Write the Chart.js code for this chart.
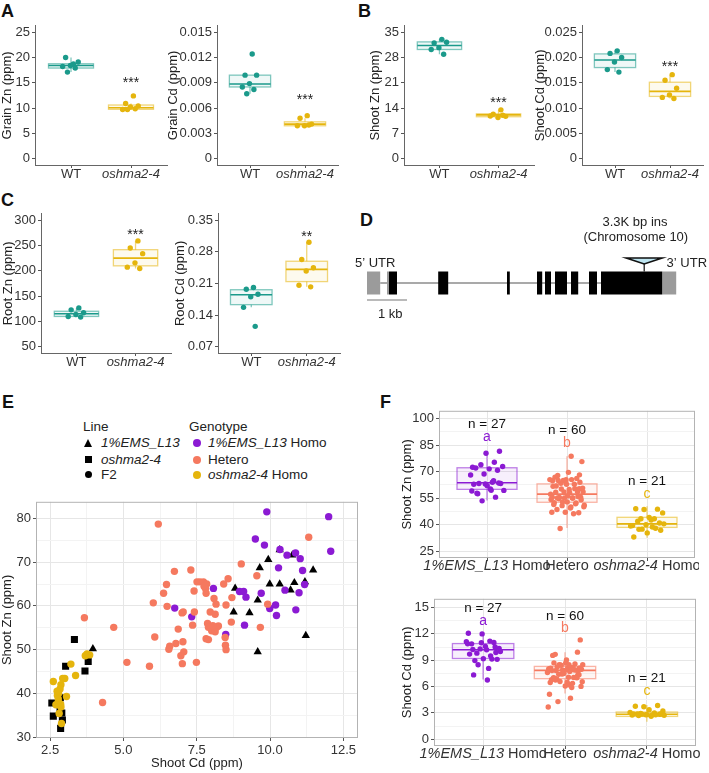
<!DOCTYPE html>
<html>
<head>
<meta charset="utf-8">
<title>OsHMA2 figure</title>
<script src="https://cdn.jsdelivr.net/npm/chart.js@4.4.1/dist/chart.umd.min.js"></script>
<style>
  body { margin: 0; background: #fff; font-family: "Liberation Sans", Arial, sans-serif; color: #222; }
  #page { position: relative; width: 709px; height: 773px; overflow: hidden; }
  canvas { position: absolute; }
  .tag { position: absolute; font-size: 18px; font-weight: bold; line-height: 18px; color: #111; }
  .lg { position: absolute; font-size: 13.5px; line-height: 16px; height: 16px; white-space: nowrap; color: #222; }
  .mk { position: absolute; }
</style>
</head>
<body>
<div id="page">
  <div class="tag" style="left:1px;top:2px">A</div>
  <div class="tag" style="left:358px;top:2px">B</div>
  <div class="tag" style="left:1px;top:191px">C</div>
  <div class="tag" style="left:360px;top:211px">D</div>
  <div class="tag" style="left:2px;top:393px">E</div>
  <div class="tag" style="left:380px;top:393px">F</div>

  <canvas id="grainZn"></canvas>
  <canvas id="grainCd"></canvas>
  <canvas id="shootZn"></canvas>
  <canvas id="shootCd"></canvas>
  <canvas id="rootZn"></canvas>
  <canvas id="rootCd"></canvas>
  <canvas id="gene"></canvas>
  <canvas id="scatterE"></canvas>
  <canvas id="boxZnF"></canvas>
  <canvas id="boxCdF"></canvas>

  <!-- legend of panel E -->
  <div class="lg" style="left:83px;top:419px">Line</div>
  <div class="mk" style="left:84px;top:439px;width:0;height:0;border-left:4.5px solid transparent;border-right:4.5px solid transparent;border-bottom:8px solid #000"></div>
  <div class="lg" style="left:101px;top:435px"><i>1%EMS_L13</i></div>
  <div class="mk" style="left:85px;top:456px;width:7px;height:7px;background:#000"></div>
  <div class="lg" style="left:101px;top:452px"><i>oshma2-4</i></div>
  <div class="mk" style="left:85px;top:471px;width:7px;height:7px;border-radius:50%;background:#000"></div>
  <div class="lg" style="left:101px;top:467px">F2</div>

  <div class="lg" style="left:189px;top:419px">Genotype</div>
  <div class="mk" style="left:193px;top:439px;width:8px;height:8px;border-radius:50%;background:#8b1ad3"></div>
  <div class="lg" style="left:208px;top:435px"><i>1%EMS_L13</i> Homo</div>
  <div class="mk" style="left:193px;top:456px;width:8px;height:8px;border-radius:50%;background:#f5795f"></div>
  <div class="lg" style="left:208px;top:452px">Hetero</div>
  <div class="mk" style="left:193px;top:471px;width:8px;height:8px;border-radius:50%;background:#e5b50d"></div>
  <div class="lg" style="left:208px;top:467px"><i>oshma2-4</i> Homo</div>
</div>

<script>
// ---- panels A-C : WT vs oshma2-4 (ppm) ----
var classicCats = [[['WT', false]], [['oshma2-4', true]]];

var grainZnWT = [18.7, 20.0, 19.1, 18.4, 18.2, 17.9, 17.1];
var grainZnMut = [12.4, 10.9, 10.4, 10.2, 9.7, 9.85, 9.7];
var grainZnBox = [[17.1, 17.9, 18.4, 18.75, 20.0], [9.7, 9.75, 10.05, 10.6, 10.9]];
var grainZnTicks = [0, 5, 10, 15, 20, 25];

var grainCdWT = [0.0124, 0.0099, 0.0099, 0.0089, 0.0085, 0.0082, 0.0077];
var grainCdMut = [0.0051, 0.0048, 0.0041, 0.0039, 0.0039, 0.0040];
var grainCdBox = [[0.0077, 0.0085, 0.00885, 0.0099, 0.0099], [0.0039, 0.0039, 0.0041, 0.00437, 0.0048]];
var grainCdTicks = [0, 0.003, 0.006, 0.009, 0.012, 0.015];

var shootZnWT = [33.0, 32.0, 32.2, 30.7, 30.2, 28.9];
var shootZnMut = [13.5, 12.3, 11.7, 11.4, 11.8, 12.0];
var shootZnBox = [[28.9, 30.2, 31.3, 32.3, 33.0], [11.4, 11.6, 12.1, 12.4, 13.5]];
var shootZnTicks = [0, 7, 14, 21, 28, 35];

var shootCdWT = [0.0213, 0.0208, 0.0200, 0.0191, 0.0176, 0.0171];
var shootCdMut = [0.0166, 0.0155, 0.0139, 0.0126, 0.0121, 0.0119];
var shootCdBox = [[0.0171, 0.0180, 0.0195, 0.0207, 0.0213], [0.0119, 0.0123, 0.0133, 0.0151, 0.0166]];
var shootCdTicks = [0, 0.005, 0.010, 0.015, 0.020, 0.025];

var rootZnWT = [126.6, 122.7, 116.9, 113.6, 109.7, 108.4];
var rootZnMut = [259, 244.8, 233.8, 215.6, 207.1, 204.5];
var rootZnBox = [[108.4, 109.7, 115, 120, 126.6], [204.5, 209.7, 225, 241.6, 259]];
var rootZnTicks = [50, 100, 150, 200, 250, 300];

var rootCdWT = [0.201, 0.197, 0.186, 0.1805, 0.157, 0.115];
var rootCdMut = [0.301, 0.263, 0.2445, 0.2373, 0.206, 0.2024];
var rootCdBox = [[0.157, 0.163, 0.185, 0.196, 0.201], [0.2024, 0.214, 0.241, 0.259, 0.301]];
var rootCdTicks = [0.07, 0.14, 0.21, 0.28, 0.35];

// ---- panel D : gene model (kb from start) ----
var utrSegs = [[0, 0.33], [0.50, 0.55], [7.38, 7.73]];
var exonSegs = [[0.55, 0.75], [1.78, 2.03], [3.50, 3.57], [4.25, 4.38], [4.45, 4.60], [4.70, 5.00], [5.10, 5.28], [5.55, 5.75], [5.85, 7.38]];
var insertionKb = 6.93;
var scaleBarKb = [0, 1];

// ---- panel E / F : F2 plants (Shoot Cd, Shoot Zn) ----
var heteroCd = [6.19, 6.74, 7.30, 7.51, 6.47, 6.37, 7.41, 6.02, 6.49, 7.00, 7.04, 7.42, 3.67, 4.67, 6.87, 7.36, 6.07, 6.79, 7.03, 6.58, 6.55, 7.06, 6.96, 7.01, 7.49, 5.12, 5.89, 4.29, 11.32, 9.02, 9.55, 8.57, 8.42, 7.61, 7.73, 7.84, 7.80, 7.82, 8.09, 8.16, 8.50, 7.96, 8.13, 8.70, 7.87, 7.90, 8.01, 8.18, 8.24, 8.13, 8.68, 7.82, 7.90, 8.47, 8.48, 8.50, 9.67, 9.92, 7.75, 8.05];
var heteroZn = [78.7, 67.9, 68.2, 65.5, 64.9, 62.9, 63.4, 60.7, 59.9, 58.4, 58.6, 58.6, 57.3, 55.1, 54.7, 55.6, 52.9, 51.4, 51.8, 50.8, 50.1, 49.5, 48.6, 46.8, 47.1, 47.1, 46.2, 37.9, 75.7, 69.6, 66.9, 66.2, 65.0, 65.5, 65.5, 65.0, 64.0, 62.9, 61.7, 60.4, 60.2, 58.6, 58.1, 61.9, 56.0, 55.1, 54.3, 55.1, 55.4, 54.1, 56.3, 52.5, 52.3, 52.8, 51.0, 50.0, 55.1, 60.4, 64.5, 55.5];
var emsHomoCd = [6.75, 7.33, 9.89, 12.00, 12.07, 9.50, 9.81, 10.34, 10.58, 10.87, 11.03, 10.29, 11.11, 8.07, 8.96, 9.10, 9.18, 9.70, 9.13, 8.49, 9.99, 10.19, 10.22, 10.51, 10.99, 10.88, 11.18];
var emsHomoZn = [59.5, 57.5, 81.5, 80.4, 72.5, 75.3, 73.9, 72.9, 71.6, 72.1, 70.8, 68.7, 68.1, 64.0, 63.3, 63.3, 62.0, 62.9, 55.6, 53.5, 59.4, 60.2, 57.8, 63.6, 63.0, 59.1, 64.9];
var oshHomoCd = [2.61, 2.87, 2.84, 2.79, 2.75, 3.00, 2.93, 3.21, 3.37, 3.76, 3.85, 3.70, 3.06, 2.78, 2.70, 2.87, 2.81, 2.89, 2.78, 2.86, 2.74];
var oshHomoZn = [42.7, 42.0, 41.0, 40.0, 39.5, 43.4, 43.4, 46.7, 44.1, 49.0, 48.8, 48.6, 39.3, 38.7, 37.4, 36.9, 35.4, 33.1, 38.0, 37.5, 40.5];
var emsLineCd = [8.81, 9.65, 9.94, 10.76, 11.47, 9.99, 10.33, 10.83, 10.70, 11.19, 9.58, 8.76, 9.30, 11.22, 9.58, 10.33, 3.96];
var emsLineZn = [64.0, 68.7, 70.6, 71.6, 68.2, 65.0, 65.0, 65.3, 63.6, 65.5, 61.3, 58.6, 58.4, 53.2, 49.5, 72.8, 50.2];
var oshLineCd = [3.33, 3.03, 3.80, 3.69, 2.56, 2.61, 2.92, 2.86, 2.84, 2.85, 2.90];
var oshLineZn = [52.3, 46.2, 47.3, 45.1, 37.8, 34.8, 33.9, 32.0, 36.5, 39.0, 35.5];
var eCdTicks = [2.5, 5.0, 7.5, 10.0, 12.5];
var eCdMinor = [3.75, 6.25, 8.75, 11.25];
var eZnTicks = [30, 40, 50, 60, 70, 80];
var eZnMinor = [35, 45, 55, 65, 75];

var fCats = [[['1%EMS_L13', true], [' Homo', false]], [['Hetero', false]], [['oshma2-4', true], [' Homo', false]]];
var fCounts = ['n = 27', 'n = 60', 'n = 21'];
var fLetters = ['a', 'b', 'c'];
var fZnBox = [[53.7, 60.0, 63.7, 72.2, 81.5], [38.2, 52.7, 57.3, 63.1, 78.7], [32.7, 38.5, 40.5, 44.2, 50.5]];
var fZnTicks = [25, 40, 55, 70, 85, 100];
var fZnMinor = [32.5, 47.5, 62.5, 77.5, 92.5];
var fZnCountY = [96.7, 93.6, 64.5];
var fZnLetterY = [89.5, 86.4, 57.3];
var fCdBox = [[6.8, 9.2, 10.2, 10.9, 12.07], [5.2, 6.9, 7.85, 8.3, 9.9], [2.0, 2.6, 2.85, 3.1, 3.9]];
var fCdTicks = [0, 3, 6, 9, 12, 15];
var fCdMinor = [1.5, 4.5, 7.5, 10.5, 13.5];
var fCdCountY = [14.9, 14.0, 6.9];
var fCdLetterY = [13.5, 12.7, 5.5];

// ---- styles ----
var FAM = '"Liberation Sans", Arial, sans-serif';
var teal = '#1b9a8b', gold = '#e5b50d', violet = '#8b1ad3', coral = '#f5795f';
Chart.defaults.font.family = FAM;
Chart.defaults.font.size = 13;
Chart.defaults.color = '#333';
Chart.defaults.animation = false;
Chart.defaults.plugins.legend.display = false;
Chart.defaults.plugins.tooltip.enabled = false;

function rgba(hex, a) {
    var n = parseInt(hex.slice(1), 16);
    return 'rgba(' + (n >> 16) + ',' + ((n >> 8) & 255) + ',' + (n & 255) + ',' + a + ')';
}

// ggplot-like jitter: a fixed low-discrepancy spread, only for horizontal scatter
function jit(i, w) { return (((i + 1) * 0.6180339887) % 1 - 0.5) * 2 * w; }
function jitterPts(vals, cat, w) {
    return vals.map(function (v, i) { return { x: cat + jit(i, w), y: v }; });
}
function xy(xs, ys) {
    return xs.map(function (v, i) { return { x: v, y: ys[i] }; });
}
function fixTicks(vals) {
    return function (s) { s.ticks = vals.map(function (v) { return { value: v }; }); };
}
function has(arr, v) {
    return arr.some(function (a) { return Math.abs(a - v) < 1e-9; });
}

function place(id, area, yw, xh, pt, pr) {
    var cv = document.getElementById(id);
    var left = area.l - yw, top = area.t - pt;
    cv.width = area.r - left + pr;
    cv.height = area.b - top + xh;
    cv.style.left = left + 'px';
    cv.style.top = top + 'px';
    cv.style.width = cv.width + 'px';
    cv.style.height = cv.height + 'px';
    return cv;
}

function drawSegs(ctx, segs, cx, y, size) {
    var widths = segs.map(function (s) {
        ctx.font = (s[1] ? 'italic ' : '') + size + 'px ' + FAM;
        return ctx.measureText(s[0]).width;
    });
    var total = widths.reduce(function (a, b) { return a + b; }, 0);
    var x = cx - total / 2;
    ctx.textAlign = 'left';
    ctx.textBaseline = 'alphabetic';
    segs.forEach(function (s, i) {
        ctx.font = (s[1] ? 'italic ' : '') + size + 'px ' + FAM;
        ctx.fillText(s[0], x, y);
        x += widths[i];
    });
}

// boxes, notes, category labels and frame, all placed through the chart scales
function decor(o) {
    return {
        id: 'decor',
        beforeDatasetsDraw: function (chart) {
            var ctx = chart.ctx, xs = chart.scales.x, ys = chart.scales.y;
            o.boxes.forEach(function (b, i) {
                var c = o.colors[i];
                var x0 = xs.getPixelForValue(i + 1 - o.halfW), x1 = xs.getPixelForValue(i + 1 + o.halfW);
                var xm = xs.getPixelForValue(i + 1);
                var lo = ys.getPixelForValue(b[0]), q1 = ys.getPixelForValue(b[1]), md = ys.getPixelForValue(b[2]);
                var q3 = ys.getPixelForValue(b[3]), hi = ys.getPixelForValue(b[4]);
                ctx.save();
                ctx.strokeStyle = rgba(c, 0.55);
                ctx.lineWidth = 1.3;
                ctx.beginPath();
                ctx.moveTo(xm, q3); ctx.lineTo(xm, hi);
                ctx.moveTo(xm, q1); ctx.lineTo(xm, lo);
                ctx.stroke();
                ctx.fillStyle = rgba(c, 0.07);
                ctx.fillRect(x0, q3, x1 - x0, q1 - q3);
                ctx.strokeRect(x0, q3, x1 - x0, q1 - q3);
                ctx.strokeStyle = c;
                ctx.lineWidth = 1.6;
                ctx.beginPath(); ctx.moveTo(x0, md); ctx.lineTo(x1, md); ctx.stroke();
                ctx.restore();
            });
        },
        afterDraw: function (chart) {
            var ctx = chart.ctx, xs = chart.scales.x, ys = chart.scales.y, a = chart.chartArea;
            ctx.save();
            (o.notes || []).forEach(function (n) {
                ctx.font = (n[4] || 13) + 'px ' + FAM;
                ctx.fillStyle = n[3] || '#222';
                ctx.textAlign = 'center';
                ctx.textBaseline = 'middle';
                ctx.fillText(n[2], xs.getPixelForValue(n[0]), ys.getPixelForValue(n[1]) + (n[5] || 0));
            });
            ctx.fillStyle = '#333';
            o.cats.forEach(function (segs, i) {
                drawSegs(ctx, segs, xs.getPixelForValue(i + 1), a.bottom + o.labelDy, o.labelSize || 13);
            });
            if (o.frame) {
                ctx.strokeStyle = '#b3b3b3';
                ctx.lineWidth = 1;
                ctx.strokeRect(a.left + 0.5, a.top + 0.5, a.right - a.left - 1, a.bottom - a.top - 1);
            }
            ctx.restore();
        }
    };
}

function classic(id, area, yw, title, yMin, yMax, ticks, digits, wt, mut, boxes, stars, starY) {
    var nCat = 2;
    new Chart(place(id, area, yw, 26, 8, 4), {
        type: 'scatter',
        data: {
            datasets: [
                { data: jitterPts(wt, 1, 0.17), backgroundColor: teal, pointRadius: 2.7, borderWidth: 0 },
                { data: jitterPts(mut, 2, 0.17), backgroundColor: gold, pointRadius: 2.7, borderWidth: 0 }
            ]
        },
        options: {
            responsive: false,
            layout: { autoPadding: false, padding: { top: 8, right: 4, left: 0, bottom: 0 } },
            scales: {
                x: {
                    type: 'linear', min: 0.4, max: nCat + 0.6, bounds: 'data',
                    afterBuildTicks: fixTicks([1, 2]),
                    afterFit: function (s) { s.height = 26; },
                    ticks: { callback: function () { return ''; }, autoSkip: false, maxRotation: 0 },
                    grid: { drawOnChartArea: false, tickLength: 3, color: '#555' },
                    border: { color: '#666', width: 1 }
                },
                y: {
                    min: yMin, max: yMax, bounds: 'data',
                    afterBuildTicks: fixTicks(ticks),
                    afterFit: function (s) { s.width = yw; },
                    ticks: {
                        callback: function (v) { return v === 0 ? '0' : v.toFixed(digits); },
                        padding: 2, autoSkip: false, color: '#333', font: { size: 13 }
                    },
                    grid: { drawOnChartArea: false, tickLength: 3, color: '#555' },
                    border: { color: '#666', width: 1 },
                    title: { display: true, text: title, color: '#222', font: { size: 13 }, padding: 0 }
                }
            }
        },
        plugins: [decor({
            boxes: boxes, colors: [teal, gold], halfW: 0.375, cats: classicCats, labelDy: 13,
            notes: [[2, starY, stars, '#222', 14, 3]]
        })]
    });
}

classic('grainZn', { l: 35, t: 24, r: 167, b: 165 }, 35, 'Grain Zn (ppm)', -1.25, 26.25, grainZnTicks, 0,
    grainZnWT, grainZnMut, grainZnBox, '***', 15.5);
classic('grainCd', { l: 217, t: 24, r: 338, b: 165 }, 51, 'Grain Cd (ppm)', -0.00075, 0.01575, grainCdTicks, 3,
    grainCdWT, grainCdMut, grainCdBox, '***', 0.0073);
classic('shootZn', { l: 404, t: 24, r: 534, b: 165 }, 36, 'Shoot Zn (ppm)', -1.75, 36.75, shootZnTicks, 0,
    shootZnWT, shootZnMut, shootZnBox, '***', 16.1);
classic('shootCd', { l: 582, t: 24, r: 703, b: 165 }, 49, 'Shoot Cd (ppm)', -0.00125, 0.02625, shootCdTicks, 3,
    shootCdWT, shootCdMut, shootCdBox, '***', 0.0187);
classic('rootZn', { l: 41, t: 212, r: 171, b: 353 }, 40, 'Root Zn (ppm)', 37.5, 312.5, rootZnTicks, 0,
    rootZnWT, rootZnMut, rootZnBox, '***', 277);
classic('rootCd', { l: 218, t: 212, r: 340, b: 353 }, 45, 'Root Cd (ppm)', 0.056, 0.364, rootCdTicks, 2,
    rootCdWT, rootCdMut, rootCdBox, '**', 0.319);

// ---- D : gene model ----
var genePlugin = {
    id: 'gene',
    afterDraw: function (chart) {
        var ctx = chart.ctx, xs = chart.scales.x, ys = chart.scales.y;
        var px = function (v) { return xs.getPixelForValue(v); };
        var py = function (v) { return ys.getPixelForValue(v); };
        ctx.save();
        ctx.strokeStyle = '#555';
        ctx.lineWidth = 1.2;
        ctx.beginPath();
        ctx.moveTo(px(utrSegs[0][1]), py(0));
        ctx.lineTo(px(exonSegs[exonSegs.length - 1][0]), py(0));
        ctx.stroke();
        ctx.fillStyle = '#9b9b9b';
        utrSegs.forEach(function (s) { ctx.fillRect(px(s[0]), py(0.46), px(s[1]) - px(s[0]), py(-0.46) - py(0.46)); });
        ctx.fillStyle = '#000';
        exonSegs.forEach(function (s) { ctx.fillRect(px(s[0]), py(0.46), px(s[1]) - px(s[0]), py(-0.46) - py(0.46)); });
        // insertion
        ctx.strokeStyle = '#111';
        ctx.lineWidth = 1.2;
        ctx.beginPath();
        ctx.moveTo(px(insertionKb), py(0.46));
        ctx.lineTo(px(insertionKb), py(0.76));
        ctx.stroke();
        ctx.beginPath();
        ctx.moveTo(px(insertionKb - 0.45), py(1.0));
        ctx.lineTo(px(insertionKb + 0.45), py(1.0));
        ctx.lineTo(px(insertionKb), py(0.76));
        ctx.closePath();
        ctx.fillStyle = '#bfe6f2';
        ctx.fill();
        ctx.lineWidth = 1.6;
        ctx.stroke();
        // scale bar
        ctx.strokeStyle = '#777';
        ctx.lineWidth = 1.2;
        ctx.beginPath();
        ctx.moveTo(px(scaleBarKb[0]), py(-0.68));
        ctx.lineTo(px(scaleBarKb[1]), py(-0.68));
        ctx.stroke();
        ctx.fillStyle = '#222';
        ctx.font = '13px ' + FAM;
        ctx.textBaseline = 'middle';
        ctx.textAlign = 'center';
        ctx.fillText('1 kb', px(0.58), py(-1.24));
        ctx.fillText('3.3K bp ins', px(6.7), py(2.44));
        ctx.fillText('(Chromosome 10)', px(6.72), py(1.84));
        ctx.textAlign = 'left';
        ctx.fillText('5\u2019 UTR', px(-0.3), py(0.8));
        ctx.fillText('3\u2019 UTR', px(7.49), py(0.8));
        ctx.restore();
    }
};
(function () {
    var cv = document.getElementById('gene');
    cv.width = 354; cv.height = 200;
    cv.style.left = '355px'; cv.style.top = '190px';
    cv.style.width = '354px'; cv.style.height = '200px';
    new Chart(cv, {
        type: 'scatter',
        data: { datasets: [] },
        options: {
            responsive: false,
            layout: { autoPadding: false, padding: 0 },
            scales: {
                x: { display: false, min: -0.3, max: 8.55, bounds: 'data' },
                y: { display: false, min: -4.28, max: 3.72, bounds: 'data' }
            }
        },
        plugins: [genePlugin]
    });
})();

// ---- E : scatter ----
function ptSet(xs, ys, color, style, r) {
    return { data: xy(xs, ys), backgroundColor: color, borderColor: color, borderWidth: 0, pointStyle: style, pointRadius: r };
}
var frameOnly = {
    id: 'frame',
    afterDraw: function (chart) {
        var ctx = chart.ctx, a = chart.chartArea;
        ctx.save();
        ctx.strokeStyle = '#b3b3b3';
        ctx.lineWidth = 1;
        ctx.strokeRect(a.left + 0.5, a.top + 0.5, a.right - a.left - 1, a.bottom - a.top - 1);
        ctx.restore();
    }
};
function gridAxis(major, minor, min, max, size, isY, title, digits) {
    var all = major.concat(minor).sort(function (a, b) { return a - b; });
    var ax = {
        min: min, max: max, bounds: 'data',
        afterBuildTicks: fixTicks(all),
        ticks: {
            callback: function (v) { return has(major, v) ? v.toFixed(digits) : ''; },
            autoSkip: false, maxRotation: 0, padding: 2, color: '#333', font: { size: 13 }
        },
        grid: {
            color: function (c) { return c.tick && has(major, c.tick.value) ? '#e6e6e6' : '#f3f3f3'; },
            tickColor: function (c) { return c.tick && has(major, c.tick.value) ? '#555' : 'rgba(0,0,0,0)'; },
            tickLength: 3
        },
        border: { display: false },
        title: { display: !!title, text: title, color: '#222', font: { size: 13 }, padding: 0 }
    };
    if (isY) ax.afterFit = function (s) { s.width = size; };
    else ax.afterFit = function (s) { s.height = size; };
    return ax;
}

new Chart(place('scatterE', { l: 36, t: 496, r: 358, b: 738 }, 36, 33, 4, 4), {
    type: 'scatter',
    data: {
        datasets: [
            ptSet(heteroCd, heteroZn, coral, 'circle', 3.7),
            ptSet(emsHomoCd, emsHomoZn, violet, 'circle', 3.7),
            ptSet(oshHomoCd, oshHomoZn, gold, 'circle', 3.7),
            ptSet(emsLineCd, emsLineZn, '#000', 'triangle', 4.8),
            ptSet(oshLineCd, oshLineZn, '#000', 'rect', 5)
        ]
    },
    options: {
        responsive: false,
        layout: { autoPadding: false, padding: { top: 4, right: 4, left: 0, bottom: 0 } },
        scales: {
            x: gridAxis(eCdTicks, eCdMinor, 2.02, 13.0, 33, false, 'Shoot Cd (ppm)', 1),
            y: gridAxis(eZnTicks, eZnMinor, 29.8, 83.8, 36, true, 'Shoot Zn (ppm)', 0)
        }
    },
    plugins: [frameOnly]
});

// ---- F : genotype box plots ----
function fChart(id, area, yw, title, yMin, yMax, major, minor, groups, boxes, countY, letterY) {
    var colors = [violet, coral, gold];
    var notes = [];
    countY.forEach(function (y, i) {
        notes.push([i + 1, y, fCounts[i], '#111', 13.5]);
        notes.push([i + 1, letterY[i], fLetters[i], colors[i], 14]);
    });
    var xAxis = gridAxis([1, 2, 3], [], 0.4, 3.6, 22, false, '', 0);
    xAxis.ticks.callback = function () { return ''; };
    new Chart(place(id, area, yw, 22, 4, 4), {
        type: 'scatter',
        data: {
            datasets: groups.map(function (g, i) {
                return { data: jitterPts(g, i + 1, 0.22), backgroundColor: colors[i], pointRadius: 2.7, borderWidth: 0 };
            })
        },
        options: {
            responsive: false,
            layout: { autoPadding: false, padding: { top: 4, right: 4, left: 0, bottom: 0 } },
            scales: {
                x: xAxis,
                y: gridAxis(major, minor, yMin, yMax, yw, true, title, 0)
            }
        },
        plugins: [decor({ boxes: boxes, colors: colors, halfW: 0.375, cats: fCats, labelDy: 12, labelSize: 14.5, notes: notes, frame: true })]
    });
}

fChart('boxZnF', { l: 439, t: 405, r: 695, b: 558 }, 39, 'Shoot Zn (ppm)', 21.2, 104.4, fZnTicks, fZnMinor,
    [emsHomoZn, heteroZn, oshHomoZn], fZnBox, fZnCountY, fZnLetterY);
fChart('boxCdF', { l: 434, t: 593, r: 696, b: 746 }, 34, 'Shoot Cd (ppm)', -0.77, 16.0, fCdTicks, fCdMinor,
    [emsHomoCd, heteroCd, oshHomoCd], fCdBox, fCdCountY, fCdLetterY);
</script>
</body>
</html>
